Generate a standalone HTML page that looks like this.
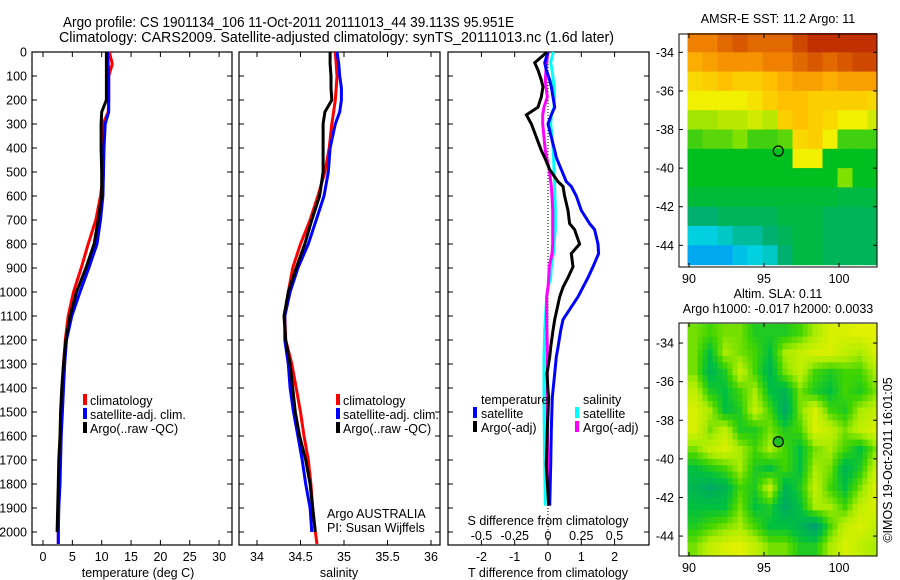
<!DOCTYPE html>
<html><head><meta charset="utf-8">
<style>
html,body{margin:0;padding:0;background:#fff;}
svg{display:block;font-family:"Liberation Sans",sans-serif;}
text{fill:#000;}
</style></head>
<body>
<svg id="chart" width="900" height="580" viewBox="0 0 900 580" xmlns="http://www.w3.org/2000/svg">
<g id="titles">
<text x="63" y="27" font-size="14.5" textLength="451" lengthAdjust="spacingAndGlyphs">Argo profile: CS 1901134_106 11-Oct-2011 20111013_44 39.113S 95.951E</text>
<text x="59" y="42" font-size="14.5" textLength="555" lengthAdjust="spacingAndGlyphs">Climatology: CARS2009. Satellite-adjusted climatology: synTS_20111013.nc (1.6d later)</text>
</g>
<g id="p1"></g>
<g id="p2"></g>
<g id="p3"></g>
<g id="m1"></g>
<g id="m2"></g>
<text transform="translate(892,460) rotate(-90)" font-size="12.5" text-anchor="middle">©IMOS 19-Oct-2011 16:01:05</text>
</svg>
<script>
// ---- data ----
const depthT = [0,50,100,150,200,250,300,400,500,600,700,800,900,1000,1100,1200,1300,1400,1500,1600,1700,1800,1900,2000,2050];
const tempClim = [11.3,11.8,11.2,11.2,11.2,11.1,10.2,10.3,10.3,9.8,9.0,7.7,6.5,5.2,4.3,3.8,3.5,3.3,3.1,3.0,2.8,2.7,2.6,2.6,2.6];
const tempSat  = [11.0,11.1,11.2,11.2,11.2,11.2,10.6,10.4,10.3,10.2,9.8,9.2,7.8,6.3,4.9,4.0,3.7,3.5,3.3,3.1,3.0,2.9,2.7,2.6,2.6];
const tempArgo = [10.8,10.8,10.8,10.8,10.8,10.0,9.9,9.9,10.0,10.0,9.4,8.7,7.3,5.7,4.6,3.9,3.5,3.2,3.0,2.9,2.7,2.6,2.5,2.4,null];
const salClim = [34.90,34.91,34.92,34.91,34.90,34.88,34.86,34.83,34.78,34.70,34.61,34.50,34.41,34.36,34.32,34.33,34.40,34.45,34.50,34.54,34.59,34.62,34.64,34.67,34.69];
const salSat  = [34.92,34.94,34.95,34.97,34.97,34.95,34.90,34.84,34.82,34.77,34.68,34.59,34.47,34.38,34.32,34.32,34.36,34.38,34.42,34.47,34.52,34.56,34.61,34.63,null];
const salArgo = [34.84,34.84,34.85,34.85,34.86,34.78,34.76,34.76,34.76,34.72,34.63,34.55,34.45,34.36,34.31,34.33,34.38,34.41,34.44,34.49,34.56,34.61,34.64,34.67,null];
const depthD = [0,45,75,117,145,187,230,262,300,410,440,490,540,560,600,660,715,740,800,840,895,940,980,1020,1115,1160,1230,1270,1340,1410,1440,1575,1720,1890];
const dTsat  = [0,-0.1,-0.05,0.05,0.1,0.15,0.2,0.1,0,0.2,0.25,0.4,0.55,0.7,0.85,1.0,1.25,1.4,1.5,1.52,1.35,1.2,1.05,0.9,0.45,0.38,0.3,0.25,0.2,0.15,0.13,0.1,0.08,0.05];
const dTargo = [-0.03,-0.4,-0.3,-0.2,-0.15,-0.2,-0.3,-0.65,-0.5,-0.2,-0.1,0.05,0.3,0.45,0.5,0.6,0.65,0.8,0.95,0.7,0.75,0.6,0.45,0.35,0.2,0.15,0.08,0.05,-0.03,0.0,0.02,-0.02,-0.05,0.02];
const dSsat  = [0.04,0.02,0.03,0.04,0.045,0.05,0.045,0.025,0.02,0.04,0.042,0.045,0.05,0.05,0.052,0.055,0.055,0.055,0.045,0.04,0.025,0.02,0.0,-0.01,-0.02,-0.025,-0.028,-0.03,-0.03,-0.03,-0.03,-0.028,-0.025,-0.02];
const dSargo = [0,-0.01,-0.015,-0.02,-0.015,-0.005,-0.03,-0.04,-0.04,-0.02,-0.01,0.01,0.02,0.025,0.03,0.035,0.035,0.035,0.035,0.03,0.01,0.005,0.0,-0.01,-0.01,-0.008,-0.005,-0.005,-0.005,-0.005,-0.005,-0.005,0.0,0.005];
const depthTicks = [0,100,200,300,400,500,600,700,800,900,1000,1100,1200,1300,1400,1500,1600,1700,1800,1900,2000];
const tempTicks = [0,5,10,15,20,25,30];
const salTicks = [34,34.5,35,35.5,36];
const salTickLabels = ["34","34.5","35","35.5","36"];
const dTTicks = [-2,-1,0,1,2];
const dSTicks = [-0.5,-0.25,0,0.25,0.5];
const dSTickLabels = ["-0.5","-0.25","0","0.25","0.5"];
const lonTicks = [90,95,100];
const latTicks = [-34,-36,-38,-40,-42,-44];
const sstGrid = [
[0.85,0.85,0.88,0.9,0.88,0.88,0.88,0.92,0.95,0.95,0.95,0.95,0.95],
[0.78,0.8,0.82,0.82,0.82,0.85,0.85,0.88,0.9,0.88,0.9,0.92,0.92],
[0.7,0.72,0.75,0.72,0.72,0.75,0.78,0.8,0.8,0.78,0.8,0.8,0.8],
[0.65,0.65,0.65,0.65,0.68,0.72,0.75,0.75,0.72,0.72,0.72,0.72,0.7],
[0.58,0.58,0.6,0.6,0.62,0.6,0.72,0.75,0.72,0.7,0.65,0.65,0.62],
[0.5,0.52,0.52,0.55,0.5,0.5,0.52,0.7,0.72,0.65,0.5,0.5,0.5],
[0.45,0.45,0.45,0.45,0.45,0.45,0.45,0.65,0.65,0.45,0.45,0.45,0.45],
[0.45,0.45,0.45,0.45,0.45,0.45,0.45,0.45,0.45,0.45,0.55,0.45,0.45],
[0.43,0.43,0.43,0.43,0.43,0.43,0.43,0.43,0.43,0.43,0.42,0.42,0.42],
[0.38,0.38,0.4,0.4,0.4,0.4,0.42,0.42,0.42,0.4,0.4,0.4,0.4],
[0.3,0.3,0.32,0.35,0.35,0.38,0.4,0.42,0.42,0.4,0.4,0.4,0.4],
[0.25,0.25,0.25,0.28,0.3,0.32,0.38,0.42,0.42,0.4,0.4,0.4,0.4]];
const slaGrid = [
[0.6,0.5,0.6,0.6,0.4,0.4,0.4,0.5,0.7,0.9,0.9,0.95,0.95],
[0.6,0.3,0.7,0.6,0.5,0.3,0.7,0.8,0.9,0.9,0.8,0.7,0.9],
[0.6,0.2,0.4,0.8,0.5,0.2,0.6,0.8,0.5,0.4,0.5,0.5,0.7],
[0.8,0.4,0.3,0.5,0.7,0.3,0.2,0.6,0.4,0.3,0.5,0.4,0.6],
[0.9,0.7,0.3,0.4,0.8,0.5,0.1,0.6,0.9,0.5,0.4,0.7,0.8],
[0.9,0.6,0.8,0.4,0.4,0.6,0.4,0.5,0.9,0.8,0.6,0.8,0.9],
[0.6,0.8,0.9,0.7,0.5,0.7,0.5,0.3,0.6,0.7,0.5,0.3,0.6],
[0.3,0.4,0.5,0.7,0.4,0.3,0.5,0.3,0.7,0.6,0.2,0.4,0.8],
[0.2,0.1,0.2,0.5,0.4,0.8,0.2,0.4,0.8,0.5,0.3,0.6,0.9],
[0.3,0.3,0.3,0.6,0.3,0.4,0.1,0.3,0.7,0.7,0.5,0.8,0.9],
[0.4,0.5,0.6,0.7,0.5,0.3,0.3,0.2,0.0,0.5,0.8,0.9,0.8],
[0.6,0.8,0.9,0.95,0.8,0.6,0.6,0.4,0.4,0.7,0.9,0.8,0.7]];
const argoLon = 95.951, argoLat = -39.113;

// ---- helpers ----
const NS="http://www.w3.org/2000/svg";
function mk(tag, parent, attrs){const e=document.createElementNS(NS,tag);for(const k in attrs)e.setAttribute(k,attrs[k]);parent.appendChild(e);return e;}
const yD = d => 52 + d*0.24;
const TOP=52, BOT=545;

function frame(g,x0,x1,name){
  const r=mk('rect',g,{x:x0,y:TOP,width:x1-x0,height:BOT-TOP,fill:'none',stroke:'#000','stroke-width':1.2});
  
  
}
function line(g,xs,ds,sx,color,name,w){
  let pts=[];
  for(let i=0;i<xs.length;i++){ if(xs[i]===null) continue; pts.push(sx(xs[i]).toFixed(1)+','+yD(ds[i]).toFixed(1)); }
  const p=mk('polyline',g,{points:pts.join(' '),fill:'none',stroke:color,'stroke-width':w||3,'stroke-linejoin':'miter'});
  
  
}
function txt(g,x,y,s,size,anchor,name){
  const t=mk('text',g,{x:x,y:y,'font-size':size,'text-anchor':anchor||'start'});
  t.textContent=s;
  
  
  return t;
}
function depthAxis(g,x0,x1,labels){
  depthTicks.forEach(d=>{
    const y=yD(d);
    mk('line',g,{x1:x0,y1:y,x2:x0+5,y2:y,stroke:'#000'});
    mk('line',g,{x1:x1,y1:y,x2:x1-5,y2:y,stroke:'#000'});
    if(labels){ txt(g,27,y+4.5,String(d),12.5,'end','depth-tick-label'); }
  });
}
function xTicks(g,vals,labs,sx,y,name){
  vals.forEach((v,i)=>{
    const x=sx(v);
    mk('line',g,{x1:x,y1:BOT,x2:x,y2:BOT-5,stroke:'#000'});
    mk('line',g,{x1:x,y1:TOP,x2:x,y2:TOP+5,stroke:'#000'});
    txt(g,x,y,labs[i],12.5,'middle',name);
  });
}
function legendMark(g,x,y,color,name){
  const r=mk('rect',g,{x:x,y:y-6,width:4,height:11,fill:color});
  
  
}

// ---- panel 1: temperature ----
const p1=document.getElementById('p1');
const sxT = v => 43 + v*5.87;
frame(p1,32,232,'temperature-axes-box');
depthAxis(p1,32,232,true);
xTicks(p1,tempTicks,tempTicks.map(String),sxT,561,'temperature-tick-label');
line(p1,tempClim,depthT,sxT,'#f00','temperature-climatology-line');
line(p1,tempSat,depthT,sxT,'#00f','temperature-satellite-line');
line(p1,tempArgo,depthT,sxT,'#000','temperature-argo-line');
txt(p1,138,577,'temperature (deg C)',12.5,'middle','temperature-axis-title');
legendMark(p1,83,400,'#f00','legend-climatology-marker');
txt(p1,90,405,'climatology',12.5,'start','legend-climatology');
legendMark(p1,83,414,'#00f','legend-satellite-marker');
txt(p1,90,419,'satellite-adj. clim.',12.5,'start','legend-satellite');
legendMark(p1,83,428,'#000','legend-argo-marker');
txt(p1,90,433,'Argo(..raw -QC)',12.5,'start','legend-argo');

// ---- panel 2: salinity ----
const p2=document.getElementById('p2');
const sxS = v => 257 + (v-34)*87;
frame(p2,239,440,'salinity-axes-box');
depthAxis(p2,239,440,false);
xTicks(p2,salTicks,salTickLabels,sxS,561,'salinity-tick-label');
line(p2,salClim,depthT,sxS,'#f00','salinity-climatology-line');
line(p2,salSat,depthT,sxS,'#00f','salinity-satellite-line');
line(p2,salArgo,depthT,sxS,'#000','salinity-argo-line');
txt(p2,339,577,'salinity',12.5,'middle','salinity-axis-title');
legendMark(p2,336,400,'#f00','legend-climatology-marker');
txt(p2,343,405,'climatology',12.5,'start','legend-climatology');
legendMark(p2,336,414,'#00f','legend-satellite-marker');
txt(p2,343,419,'satellite-adj. clim.',12.5,'start','legend-satellite');
legendMark(p2,336,428,'#000','legend-argo-marker');
txt(p2,343,433,'Argo(..raw -QC)',12.5,'start','legend-argo');
txt(p2,327,518,'Argo AUSTRALIA',12.5,'start','data-source-label');
txt(p2,327,532,'PI: Susan Wijffels',12.5,'start','pi-label');

// ---- panel 3: differences ----
const p3=document.getElementById('p3');
const sxDT = v => 548 + v*33.3;
const sxDS = v => 548 + v*133;
frame(p3,448,649,'difference-axes-box');
depthAxis(p3,448,649,false);
dTTicks.forEach(v=>{const x=sxDT(v);
  mk('line',p3,{x1:x,y1:BOT,x2:x,y2:BOT-5,stroke:'#000'});
  mk('line',p3,{x1:x,y1:TOP,x2:x,y2:TOP+5,stroke:'#000'});
  txt(p3,x,561,String(v),12.5,'middle','t-diff-tick-label');});
dSTicks.forEach((v,i)=>{txt(p3,sxDS(v),540,dSTickLabels[i],12.5,'middle','s-diff-tick-label');});
const zl=mk('line',p3,{x1:548,y1:TOP,x2:548,y2:BOT,stroke:'#000','stroke-dasharray':'1,2'});


line(p3,dSsat,depthD,sxDS,'#0ff','s-diff-satellite-line');
line(p3,dSargo,depthD,sxDS,'#f0f','s-diff-argo-line');
line(p3,dTsat,depthD,sxDT,'#00f','t-diff-satellite-line');
line(p3,dTargo,depthD,sxDT,'#000','t-diff-argo-line');
txt(p3,548,525,'S difference from climatology',12.5,'middle','s-diff-axis-title');
txt(p3,548,577,'T difference from climatology',12.5,'middle','t-diff-axis-title');
txt(p3,481,404,'temperature',12.5,'start','legend-temperature-heading');
legendMark(p3,473,413,'#00f','legend-t-satellite-marker');
txt(p3,481,418,'satellite',12.5,'start','legend-t-satellite');
legendMark(p3,473,427,'#000','legend-t-argo-marker');
txt(p3,481,432,'Argo(-adj)',12.5,'start','legend-t-argo');
txt(p3,583,404,'salinity',12.5,'start','legend-salinity-heading');
legendMark(p3,575,413,'#0ff','legend-s-satellite-marker');
txt(p3,583,418,'satellite',12.5,'start','legend-s-satellite');
legendMark(p3,575,427,'#f0f','legend-s-argo-marker');
txt(p3,583,432,'Argo(-adj)',12.5,'start','legend-s-argo');

// ---- maps ----
function interp(stops,v){
  for(let i=0;i<stops.length-1;i++){
    const a=stops[i],b=stops[i+1];
    if(v<=b[0]){const t=Math.max(0,(v-a[0])/(b[0]-a[0]));
      return 'rgb('+[0,1,2].map(k=>Math.round(a[1][k]+(b[1][k]-a[1][k])*t)).join(',')+')';}
  }
  const l=stops[stops.length-1][1];return 'rgb('+l.join(',')+')';
}
const sstStops=[[0,[0,0,160]],[0.2,[0,128,255]],[0.3,[0,208,224]],[0.38,[0,176,112]],[0.45,[0,192,32]],[0.55,[128,224,0]],[0.65,[240,240,0]],[0.75,[255,192,0]],[0.85,[240,128,0]],[0.95,[192,48,0]]];
const slaStops=[[0,[0,160,112]],[0.3,[0,192,64]],[0.5,[64,212,0]],[0.7,[170,236,0]],[1,[236,242,0]]];

function sample(grid,fr,fc){
  const R=grid.length-1,C=grid[0].length-1;
  fr=Math.max(0,Math.min(R,fr));fc=Math.max(0,Math.min(C,fc));
  const r0=Math.floor(fr),c0=Math.floor(fc),r1=Math.min(R,r0+1),c1=Math.min(C,c0+1);
  const tr=fr-r0,tc=fc-c0;
  return (grid[r0][c0]*(1-tc)+grid[r0][c1]*tc)*(1-tr)+(grid[r1][c0]*(1-tc)+grid[r1][c1]*tc)*tr;
}
function drawMap(g,grid,stops,y0,y1,latTop,title1,title2,smooth,circFill){
  const X0=679,X1=877;
  const sxL = lon => 689 + (lon-90)*15;
  const syL = lat => y0 + (latTop-lat)*19.3;
  const cells=mk('g',g,{});
  const sub = smooth ? 3 : 1;
  grid.forEach((row,r)=>row.forEach((v,c)=>{
    for(let i=0;i<sub;i++)for(let j=0;j<sub;j++){
      const fr=r+(i+0.5)/sub-0.5, fc=c+(j+0.5)/sub-0.5;
      const val = smooth ? sample(grid,fr,fc) : v;
      const lon=89.9+c+j/sub, lat=-33-r-i/sub;
      const rc=mk('rect',cells,{x:sxL(lon).toFixed(1),y:syL(lat).toFixed(1),width:(15/sub+0.6).toFixed(2),height:(19.3/sub+0.6).toFixed(2),fill:interp(stops,val)});
      
      
    }
  }));
  mk('rect',g,{x:X1,y:y0-1,width:12,height:y1-y0+2,fill:'#fff'});
  mk('rect',g,{x:X0,y:y1,width:X1-X0,height:6,fill:'#fff'});
  const b=mk('rect',g,{x:X0,y:y0,width:X1-X0,height:y1-y0,fill:'none',stroke:'#000'});
  
  
  lonTicks.forEach(l=>{const x=sxL(l);
    mk('line',g,{x1:x,y1:y1,x2:x,y2:y1-4,stroke:'#000'});
    mk('line',g,{x1:x,y1:y0,x2:x,y2:y0+4,stroke:'#000'});
    txt(g,x,y1+16,String(l),12.5,'middle','longitude-tick-label');});
  latTicks.forEach(l=>{const y=syL(l);
    mk('line',g,{x1:X0,y1:y,x2:X0+4,y2:y,stroke:'#000'});
    mk('line',g,{x1:X1,y1:y,x2:X1-4,y2:y,stroke:'#000'});
    txt(g,674,y+4.5,String(l),12.5,'end','latitude-tick-label');});
  const c=mk('circle',g,{cx:sxL(argoLon),cy:syL(argoLat),r:5,fill:circFill,stroke:'#000','stroke-width':1.2});
  
  
  if(title2){txt(g,778,y0-25,title1,12.5,'middle','map-title');txt(g,778,y0-10,title2,12.5,'middle','map-subtitle');}
  else txt(g,778,y0-11,title1,12.5,'middle','map-title');
}
drawMap(document.getElementById('m1'),sstGrid,sstStops,34,267,-33.05,'AMSR-E SST: 11.2 Argo: 11',null,false,'none');
drawMap(document.getElementById('m2'),slaGrid,slaStops,323,556,-32.96,'Altim. SLA: 0.11','Argo h1000: -0.017 h2000: 0.0033',true,'#20c020');
</script>
</body></html>
